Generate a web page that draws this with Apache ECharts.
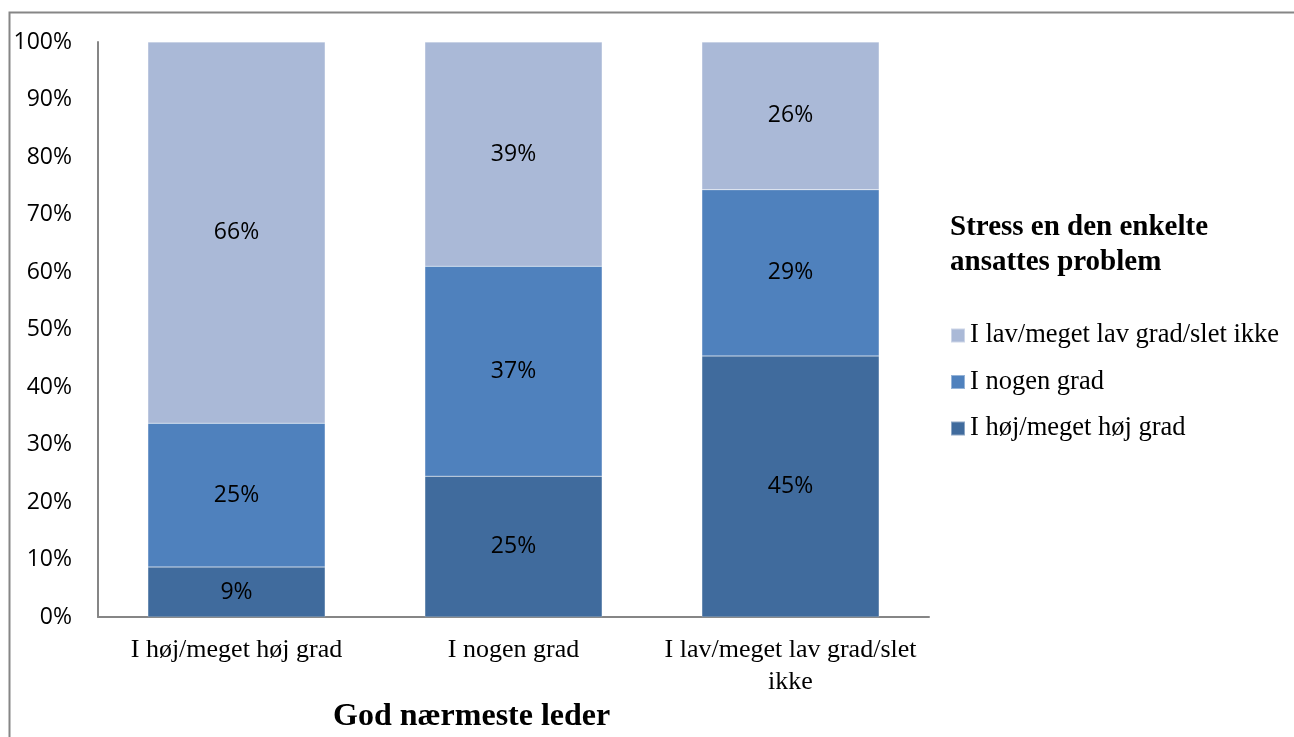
<!DOCTYPE html>
<html>
<head>
<meta charset="utf-8">
<script src="https://cdn.jsdelivr.net/npm/echarts@6/dist/echarts.min.js"></script>
<style>
  html, body { margin: 0; padding: 0; background: #fff; }
  #main { width: 1294px; height: 737px; }
</style>
</head>
<body>
<div id="main"></div>
<script>
// categories on x axis
var categories = ["I høj/meget høj grad", "I nogen grad", "I lav/meget lav grad/slet\nikke"];
// shares per category (percent)
var hojData = [8.7, 24.5, 45.4];
var nogenData = [25.0, 36.5, 28.9];
var lavData = [66.3, 39.0, 25.7];
var seriesNames = ["I høj/meget høj grad", "I nogen grad", "I lav/meget lav grad/slet ikke"];
var yTicks = [0, 10, 20, 30, 40, 50, 60, 70, 80, 90, 100];

var colors = ["#406b9d", "#4f81bd", "#aab9d7"];

function mkSeries(name, data, color) {
  return {
    name: name,
    type: "bar",
    stack: "total",
    barWidth: "64%",
    data: data,
    itemStyle: { color: color, borderColor: "rgba(255,255,255,0.4)", borderWidth: 0.5 },
    label: {
      show: true,
      position: "inside",
      color: "#000",
      fontFamily: "Open Sans",
      fontSize: 23,
      formatter: function (p) { return Math.round(p.value) + "%"; }
    }
  };
}

var chart = echarts.init(document.getElementById("main"));
var option = {
  backgroundColor: "#fff",
  animation: false,
  grid: { left: 98, right: 365, top: 42, bottom: 120 },
  xAxis: {
    type: "category",
    data: categories,
    axisLine: { lineStyle: { color: "#868686", width: 2 } },
    axisTick: { show: false },
    axisLabel: {
      color: "#000",
      fontFamily: "Liberation Serif",
      fontSize: 26,
      margin: 17,
      lineHeight: 32,
      interval: 0
    }
  },
  yAxis: {
    type: "value",
    min: 0,
    max: 100,
    interval: 10,
    splitLine: { show: false },
    axisLine: { show: true, lineStyle: { color: "#868686", width: 2 } },
    axisTick: { show: false },
    axisLabel: {
      color: "#000",
      fontFamily: "Open Sans",
      fontSize: 23,
      margin: 26,
      formatter: function (v) { return yTicks.indexOf(v) >= 0 ? v + "%" : ""; }
    }
  },
  legend: {
    orient: "vertical",
    left: 945,
    top: 317,
    itemWidth: 14,
    itemHeight: 14,
    itemGap: 19.5,
    icon: "rect",
    data: [seriesNames[2], seriesNames[1], seriesNames[0]],
    textStyle: { color: "#000", fontFamily: "Liberation Serif", fontSize: 26.5, lineHeight: 26 }
  },
  graphic: [
    {
      type: "rect",
      shape: { x: 9.5, y: 12.5, width: 1300, height: 740 },
      style: { fill: "none", stroke: "#868686", lineWidth: 2 },
      silent: true
    },
    {
      type: "text",
      left: 950,
      top: 210,
      style: {
        text: "Stress en den enkelte\nansattes problem",
        fill: "#000",
        font: "bold 29px 'Liberation Serif'",
        lineHeight: 35
      }
    },
    {
      type: "text",
      left: 333,
      top: 701,
      style: {
        text: "God nærmeste leder",
        fill: "#000",
        font: "bold 32px 'Liberation Serif'"
      }
    }
  ],
  series: [
    mkSeries(seriesNames[0], hojData, colors[0]),
    mkSeries(seriesNames[1], nogenData, colors[1]),
    mkSeries(seriesNames[2], lavData, colors[2])
  ]
};
chart.setOption(option);
</script>
</body>
</html>
